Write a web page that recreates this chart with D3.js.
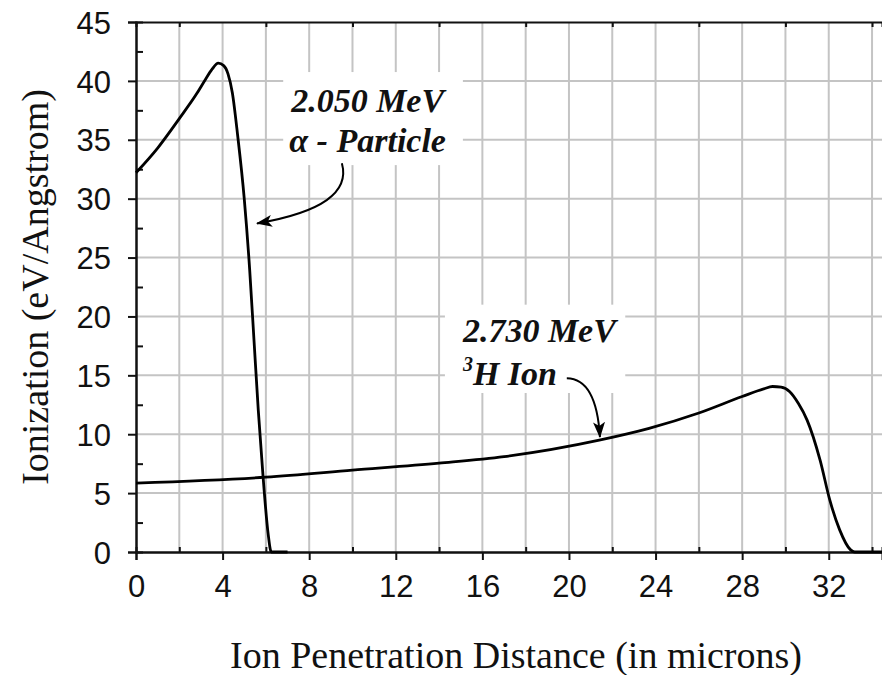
<!DOCTYPE html>
<html>
<head>
<meta charset="utf-8">
<script src="https://cdn.jsdelivr.net/npm/d3@7/dist/d3.min.js"></script>
<style>
  body { margin: 0; background: #fff; }
  svg { display: block; }
  .tick text { font-family: "Liberation Sans", Arial, sans-serif; font-size: 31px; fill: #111; }
  .title { font-family: "Liberation Serif", "Times New Roman", serif; font-size: 38px; fill: #111; }
  .note { font-family: "Liberation Serif", "Times New Roman", serif; font-size: 34px; font-weight: bold; font-style: italic; fill: #111; }
</style>
</head>
<body>
<script>
// alpha particle, 2.050 MeV
const alphaX = [0, 1, 2, 2.8, 3.2, 3.5, 3.8, 4.05, 4.25, 4.45, 4.7, 5.0, 5.25, 5.45, 5.65, 5.87, 6.1, 6.25, 7.0];
const alphaY = [32.2, 34.3, 36.8, 38.9, 40.1, 40.95, 41.5, 41.3, 40.6, 39.0, 35.3, 30.0, 24.0, 18.0, 12.0, 6.4, 1.6, 0, 0];

// 3H ion, 2.730 MeV
const tritonX = [0, 6, 10, 14, 17, 21.4, 23.7, 26, 28, 29, 29.4, 29.8, 30.2, 30.6, 31, 31.6, 32.05, 32.5, 33.0, 33.2, 34.5];
const tritonY = [5.85, 6.35, 6.95, 7.55, 8.1, 9.5, 10.5, 11.8, 13.2, 13.85, 14.05, 14.0, 13.6, 12.6, 11.2, 7.8, 4.4, 1.9, 0.2, 0, 0];

const xMajor = [0, 4, 8, 12, 16, 20, 24, 28, 32];
const xMinor = [2, 6, 10, 14, 18, 22, 26, 30, 34];
const yMajor = [0, 5, 10, 15, 20, 25, 30, 35, 40, 45];
const yMinor = [2.5, 7.5, 12.5, 17.5, 22.5, 27.5, 32.5, 37.5, 42.5];

const width = 882, height = 675;
const margin = { top: 22, right: 0, bottom: 123, left: 136 };
const w = width - margin.left - margin.right;
const h = height - margin.top - margin.bottom;

const svg = d3.select('body').append('svg')
    .attr('width', width)
    .attr('height', height);

const g = svg.append('g')
    .attr('transform', `translate(${margin.left},${margin.top})`);

const x = d3.scaleLinear().domain([0, 34.46]).range([0, w]);
const y = d3.scaleLinear().domain([0, 45]).range([h, 0]);

// grid
g.append('g')
    .selectAll('line')
    .data(d3.range(2, 35, 2))
    .enter().append('line')
    .attr('x1', d => x(d)).attr('x2', d => x(d))
    .attr('y1', 0).attr('y2', h)
    .attr('stroke', '#c4c4c4').attr('stroke-width', 2);

g.append('g')
    .selectAll('line')
    .data(yMajor.filter(v => v > 0 && v < 45))
    .enter().append('line')
    .attr('x1', 0).attr('x2', w)
    .attr('y1', d => y(d)).attr('y2', d => y(d))
    .attr('stroke', '#c4c4c4').attr('stroke-width', 2);

// white boxes behind the labels
const boxes = [
    { x0: 6.8, x1: 15.1, y0: 40.75, y1: 32.85 },
    { x0: 14.27, x1: 22.6, y0: 21.0, y1: 13.5 }
];
g.selectAll('.box')
    .data(boxes)
    .enter().append('rect')
    .attr('class', 'box')
    .attr('x', d => x(d.x0))
    .attr('y', d => y(d.y0))
    .attr('width', d => x(d.x1) - x(d.x0))
    .attr('height', d => y(d.y1) - y(d.y0))
    .attr('fill', '#fff');

// axes
const axisStyle = sel => {
    sel.select('.domain').attr('stroke', '#111').attr('stroke-width', 2);
    sel.selectAll('.tick line').attr('stroke', '#111').attr('stroke-width', 2);
};

g.append('g')
    .attr('class', 'x-axis')
    .attr('transform', `translate(0,${h})`)
    .call(d3.axisBottom(x).tickValues(xMajor).tickSize(8).tickPadding(15).tickFormat(d3.format('d')))
    .call(axisStyle);

g.append('g')
    .attr('transform', `translate(0,${h})`)
    .call(d3.axisBottom(x).tickValues(xMinor).tickSize(-5).tickFormat(''))
    .call(axisStyle);

g.append('g')
    .call(d3.axisTop(x).tickValues(xMinor).tickSize(-5).tickFormat(''))
    .call(axisStyle);

g.append('g')
    .attr('class', 'y-axis')
    .call(d3.axisLeft(y).tickValues(yMajor).tickSize(8).tickPadding(17).tickFormat(d3.format('d')))
    .call(axisStyle);

g.append('g')
    .call(d3.axisLeft(y).tickValues(yMinor).tickSize(-7).tickFormat(''))
    .call(axisStyle);

g.selectAll('.x-axis .tick text').attr('dy', '0.72em');
g.selectAll('.y-axis .tick text').attr('dy', '0.36em');

// curves
const line = d3.line()
    .x(d => x(d[0]))
    .y(d => y(d[1]))
    .curve(d3.curveMonotoneX);

g.append('path')
    .datum(alphaX.map((v, i) => [v, alphaY[i]]))
    .attr('d', line)
    .attr('fill', 'none').attr('stroke', '#000').attr('stroke-width', 2.8);

g.append('path')
    .datum(tritonX.map((v, i) => [v, tritonY[i]]))
    .attr('d', line)
    .attr('fill', 'none').attr('stroke', '#000').attr('stroke-width', 2.8);

// arrows
svg.append('defs').append('marker')
    .attr('id', 'head')
    .attr('viewBox', '0 0 16 12')
    .attr('refX', 15).attr('refY', 6)
    .attr('markerWidth', 16).attr('markerHeight', 12)
    .attr('markerUnits', 'userSpaceOnUse')
    .attr('orient', 'auto')
    .append('path')
    .attr('d', 'M0,0 L16,6 L0,12 L4,6 Z')
    .attr('fill', '#000');

const arrows = [
    [[9.51, 33.0], [10.07, 29.3], [5.59, 27.9]],
    [[19.9, 14.76], [21.27, 14.73], [21.43, 9.76]]
];
g.selectAll('.arrow')
    .data(arrows)
    .enter().append('path')
    .attr('class', 'arrow')
    .attr('d', d => `M${x(d[0][0])},${y(d[0][1])} Q${x(d[1][0])},${y(d[1][1])} ${x(d[2][0])},${y(d[2][1])}`)
    .attr('fill', 'none')
    .attr('stroke', '#000')
    .attr('stroke-width', 2)
    .attr('marker-end', 'url(#head)');

// labels
g.append('text').attr('class', 'note')
    .attr('x', x(10.7)).attr('y', y(37.35))
    .attr('text-anchor', 'middle')
    .text('2.050 MeV');
g.append('text').attr('class', 'note')
    .attr('x', x(10.7)).attr('y', y(34.0))
    .attr('text-anchor', 'middle')
    .text('α - Particle');

g.append('text').attr('class', 'note')
    .attr('x', x(15.1)).attr('y', y(17.8))
    .text('2.730 MeV');
const ion = g.append('text').attr('class', 'note')
    .attr('x', x(15.1)).attr('y', y(14.2));
ion.append('tspan').attr('font-size', '20px').attr('dy', '-14').text('3');
ion.append('tspan').attr('dy', '14').text('H Ion');

// axis titles
svg.append('text').attr('class', 'title')
    .attr('x', 516).attr('y', 668)
    .attr('text-anchor', 'middle')
    .text('Ion Penetration Distance (in microns)');

svg.append('text').attr('class', 'title')
    .attr('transform', 'translate(48,287) rotate(-90)')
    .attr('text-anchor', 'middle')
    .text('Ionization (eV/Angstrom)');
</script>
</body>
</html>
